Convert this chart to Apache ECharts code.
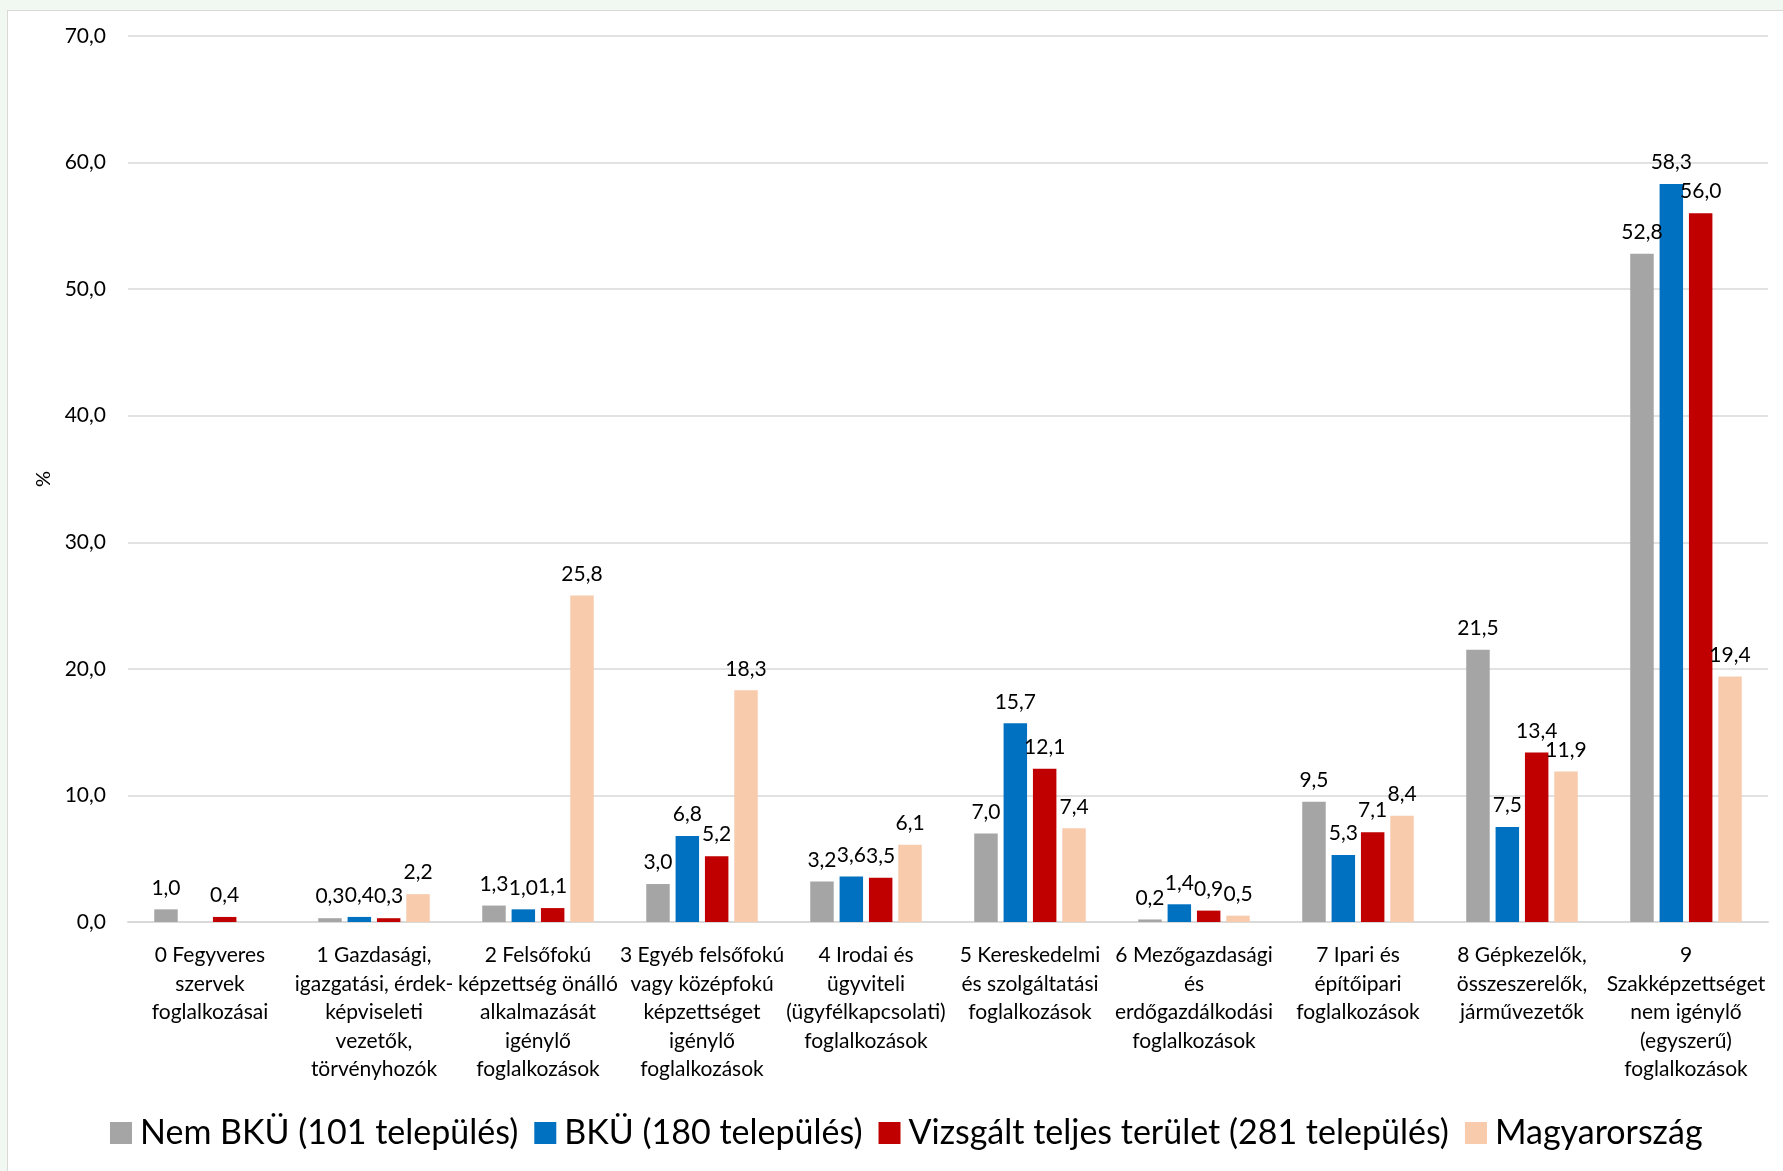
<!DOCTYPE html>
<html>
<head>
<meta charset="utf-8">
<script src="https://cdn.jsdelivr.net/npm/echarts@6/dist/echarts.min.js"></script>
<style>
  html, body { margin: 0; padding: 0; background: #f1f8f1; width: 1783px; height: 1171px; overflow: hidden; }
  #frame { position: absolute; left: 7px; top: 10px; width: 1800px; height: 1200px; background: #ffffff; border: 1px solid #d9d9d9; }
  #chart { position: absolute; left: 0; top: 0; width: 1783px; height: 1171px; }
</style>
</head>
<body>
<div id="frame"></div>
<div id="chart"></div>
<script>
const categories = [
  "0 Fegyveres\nszervek\nfoglalkozásai",
  "1 Gazdasági,\nigazgatási, érdek-\nképviseleti\nvezetők,\ntörvényhozók",
  "2 Felsőfokú\nképzettség önálló\nalkalmazását\nigénylő\nfoglalkozások",
  "3 Egyéb felsőfokú\nvagy középfokú\nképzettséget\nigénylő\nfoglalkozások",
  "4 Irodai és\nügyviteli\n(ügyfélkapcsolati)\nfoglalkozások",
  "5 Kereskedelmi\nés szolgáltatási\nfoglalkozások",
  "6 Mezőgazdasági\nés\nerdőgazdálkodási\nfoglalkozások",
  "7 Ipari és\népítőipari\nfoglalkozások",
  "8 Gépkezelők,\nösszeszerelők,\njárművezetők",
  "9\nSzakképzettséget\nnem igénylő\n(egyszerű)\nfoglalkozások"
];
const seriesNames = [
  "Nem BKÜ (101 település)",
  "BKÜ (180 település)",
  "Vizsgált teljes terület (281 település)",
  "Magyarország"
];
const nemBKU       = [1.0, 0.3, 1.3, 3.0, 3.2, 7.0, 0.2, 9.5, 21.5, 52.8];
const bku          = [null, 0.4, 1.0, 6.8, 3.6, 15.7, 1.4, 5.3, 7.5, 58.3];
const vizsgalt     = [0.4, 0.3, 1.1, 5.2, 3.5, 12.1, 0.9, 7.1, 13.4, 56.0];
const magyarorszag = [null, 2.2, 25.8, 18.3, 6.1, 7.4, 0.5, 8.4, 11.9, 19.4];
const yTicks = [0, 10, 20, 30, 40, 50, 60, 70];
const axisName = "%";

const colors = ["#A5A5A5", "#0070C0", "#C00000", "#F8CBAD"];
const FONT = "Lato";
const fmt = v => Number(v).toFixed(1).replace('.', ',');

const chart = echarts.init(document.getElementById('chart'), null, { renderer: 'canvas' });

const allData = [nemBKU, bku, vizsgalt, magyarorszag];
const series = allData.map((d, i) => ({
  name: seriesNames[i],
  type: 'bar',
  data: d,
  barGap: '25%',
  barCategoryGap: '32%',
  itemStyle: { color: colors[i] },
  label: {
    show: true,
    position: 'top',
    distance: 11,
    color: '#000',
    fontFamily: FONT,
    fontSize: 21,
    formatter: p => (p.value == null ? '' : fmt(p.value))
  },
  emphasis: { disabled: true }
}));

chart.setOption({
  backgroundColor: 'transparent',
  animation: false,
  color: colors,
  textStyle: { fontFamily: FONT },
  grid: { left: 128, right: 15, top: 36, bottom: 249, containLabel: false },
  legend: {
    left: 105,
    top: 1111,
    itemWidth: 22,
    itemHeight: 22,
    itemGap: 16,
    icon: 'rect',
    textStyle: { fontFamily: FONT, fontSize: 34, color: '#000', padding: [0, 0, 0, 3] },
    data: seriesNames
  },
  xAxis: {
    type: 'category',
    data: categories,
    axisLine: { show: true, lineStyle: { color: '#d9d9d9', width: 2 } },
    axisTick: { show: false },
    axisLabel: {
      interval: 0,
      margin: 19,
      color: '#000',
      fontFamily: FONT,
      fontSize: 21,
      lineHeight: 28.5,
      align: 'center'
    }
  },
  yAxis: {
    type: 'value',
    min: yTicks[0],
    max: yTicks[yTicks.length - 1],
    interval: 10,
    name: axisName,
    nameLocation: 'middle',
    nameRotate: 90,
    nameGap: 74,
    nameTextStyle: { fontFamily: FONT, fontSize: 20, color: '#000' },
    axisLine: { show: false },
    axisTick: { show: false },
    axisLabel: {
      margin: 22,
      color: '#000',
      fontFamily: FONT,
      fontSize: 21,
      formatter: v => fmt(v)
    },
    splitLine: { lineStyle: { color: '#d9d9d9', width: 1.5 } }
  },
  series: series
});
</script>
</body>
</html>
